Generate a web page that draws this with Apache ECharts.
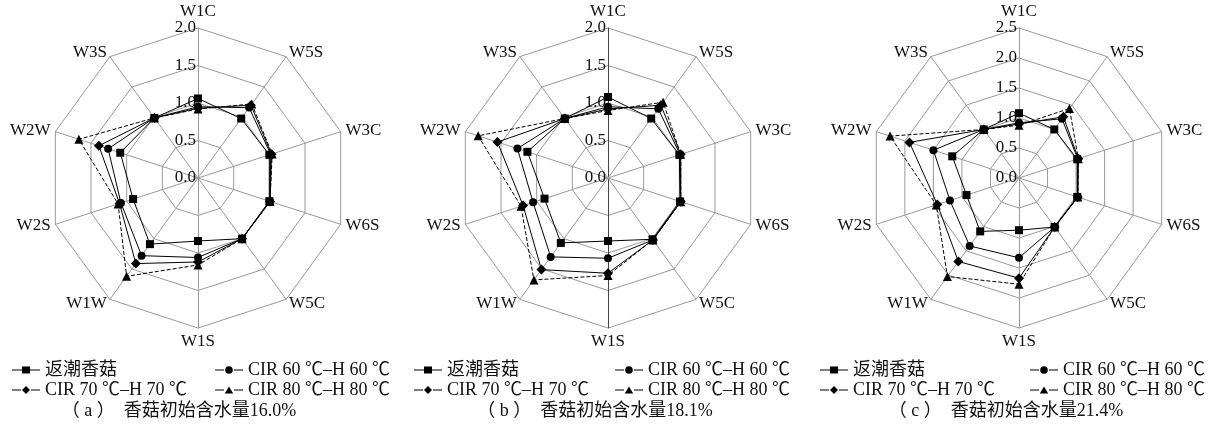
<!DOCTYPE html>
<html>
<head>
<meta charset="utf-8">
<script src="https://cdn.jsdelivr.net/npm/echarts@6/dist/echarts.min.js"></script>
<style>
  html, body { margin: 0; padding: 0; background: #fff; }
  #chart { width: 1217px; height: 430px; }
</style>
</head>
<body>
<div id="chart"></div>
<script>
// Indicator names, listed clockwise from the top
const indicators = ['W1C', 'W5S', 'W3C', 'W6S', 'W5C', 'W1S', 'W1W', 'W2S', 'W2W', 'W3S'];
const seriesNames = ['返潮香菇', 'CIR 60 ℃–H 60 ℃', 'CIR 70 ℃–H 70 ℃', 'CIR 80 ℃–H 80 ℃'];
const captions = ['（ a ）  香菇初始含水量16.0%', '（ b ）  香菇初始含水量18.1%', '（ c ）  香菇初始含水量21.4%'];
const axisMax = [2.0, 2.0, 2.5];
const axisStep = 0.5;

// (a) initial moisture 16.0%
const a_rewet = [1.06, 0.98, 1.00, 1.00, 1.00, 0.84, 1.09, 0.91, 1.09, 0.99];
const a_cir60 = [0.95, 1.16, 1.02, 1.01, 1.00, 1.06, 1.28, 1.08, 1.26, 0.99];
const a_cir70 = [0.93, 1.20, 1.03, 1.01, 1.00, 1.12, 1.41, 1.10, 1.39, 0.99];
const a_cir80 = [0.92, 1.22, 1.04, 1.01, 1.00, 1.16, 1.62, 1.12, 1.67, 0.99];

// (b) initial moisture 18.1%
const b_rewet = [1.08, 0.98, 1.00, 1.01, 1.01, 0.84, 1.07, 0.89, 1.13, 0.98];
const b_cir60 = [0.95, 1.14, 1.01, 1.02, 1.02, 1.07, 1.30, 1.05, 1.27, 0.98];
const b_cir70 = [0.92, 1.20, 1.02, 1.02, 1.02, 1.27, 1.51, 1.19, 1.55, 0.98];
const b_cir80 = [0.90, 1.25, 1.02, 1.02, 1.02, 1.30, 1.68, 1.22, 1.82, 0.98];

// (c) initial moisture 21.4%
const c_rewet = [1.08, 1.00, 1.02, 1.02, 1.01, 0.87, 1.10, 0.92, 1.17, 1.00];
const c_cir60 = [0.92, 1.22, 1.03, 1.03, 1.01, 1.33, 1.40, 1.21, 1.50, 1.00];
const c_cir70 = [0.90, 1.26, 1.04, 1.03, 1.01, 1.67, 1.72, 1.43, 1.92, 1.00];
const c_cir80 = [0.88, 1.43, 1.04, 1.03, 1.01, 1.77, 2.03, 1.45, 2.26, 1.00];

const panels = [
  [a_rewet, a_cir60, a_cir70, a_cir80],
  [b_rewet, b_cir60, b_cir70, b_cir80],
  [c_rewet, c_cir60, c_cir70, c_cir80]
];

// ECharts lays radar indicators out counter-clockwise; reorder to read clockwise
const toCCW = arr => [arr[0]].concat(arr.slice(1).reverse());

const FONT = "'Liberation Serif', 'Noto Sans CJK SC', serif";
const TEXT = '#111';
const GRID = '#999';
const centers = [[198, 178], [608, 178], [1019, 178]];
const symbols = ['rect', 'circle', 'diamond', 'triangle'];
const symbolSizes = [8, 8, 10, 9];
const lineTypes = ['solid', 'solid', 'solid', [4, 2]];

// legend icons: a short line with the marker in the middle
const bar = 'M0,3.4H9V4.6H0Z M19,3.4H28V4.6H19Z ';
const legendIcons = [
  'path://M0,3.4H10V0.5H18V3.4H28V4.6H18V7.5H10V4.6H0Z',
  'path://' + bar + 'M10.2,4A3.8,3.8,0,1,1,17.8,4A3.8,3.8,0,1,1,10.2,4Z',
  'path://' + bar + 'M14,0L18,4L14,8L10,4Z',
  'path://' + bar + 'M14,0.4L18.2,7.6L9.8,7.6Z'
];

// legend placement per panel
const legendLeft = [12, 414, 820];
const legendRight = [827, 427, 12];
const captionX = [179, 595, 1006];

const radar = [];
const series = [];
const legend = [];
const title = [];

panels.forEach((vals, p) => {
  const ind = toCCW(indicators).map((name, i) => {
    const o = { name: name, min: 0, max: axisMax[p] };
    if (i === 0) {
      o.axisLabel = {
        show: true, color: TEXT, fontSize: 17, fontFamily: FONT, margin: 2,
        formatter: v => Number(v).toFixed(1)
      };
    }
    // the vertical axis of panel (b) is drawn darker
    if (p === 1 && (name === 'W1C' || name === 'W1S')) {
      o.axisLine = { lineStyle: { color: '#444', width: 1 } };
    }
    return o;
  });
  radar.push({
    center: centers[p],
    radius: 150,
    startAngle: 90,
    shape: 'polygon',
    splitNumber: Math.round(axisMax[p] / axisStep),
    indicator: ind,
    axisName: { color: TEXT, fontSize: 17, fontFamily: FONT },
    nameGap: 5,
    axisLine: { lineStyle: { color: GRID, width: 1 } },
    splitLine: { lineStyle: { color: GRID, width: 1 } },
    splitArea: { show: false },
    axisLabel: { show: false },
    axisTick: { show: false }
  });
  series.push({
    type: 'radar',
    radarIndex: p,
    z: 3,
    data: vals.map((v, k) => ({
      name: seriesNames[k],
      value: toCCW(v),
      symbol: symbols[k],
      symbolSize: symbolSizes[k],
      itemStyle: { color: '#000' },
      lineStyle: { color: '#000', width: 1, type: lineTypes[k] }
    }))
  });
  const rows = [361, 381];
  const common = {
    itemWidth: 28, itemHeight: 8, padding: 0, itemGap: 0,
    selectedMode: false,
    textStyle: { color: TEXT, fontSize: 18, fontFamily: FONT }
  };
  legend.push(Object.assign({ data: [{ name: seriesNames[0], icon: legendIcons[0] }], left: legendLeft[p], top: rows[0] }, common));
  legend.push(Object.assign({ data: [{ name: seriesNames[2], icon: legendIcons[2] }], left: legendLeft[p], top: rows[1] }, common));
  legend.push(Object.assign({ data: [{ name: seriesNames[1], icon: legendIcons[1] }], right: legendRight[p], top: rows[0] }, common));
  legend.push(Object.assign({ data: [{ name: seriesNames[3], icon: legendIcons[3] }], right: legendRight[p], top: rows[1] }, common));
  title.push({
    text: captions[p],
    left: captionX[p],
    top: 402,
    textAlign: 'center',
    padding: 0,
    textStyle: { color: TEXT, fontSize: 18, fontWeight: 'normal', fontFamily: FONT }
  });
});

const chart = echarts.init(document.getElementById('chart'), null, { renderer: 'canvas' });
chart.setOption({
  backgroundColor: '#fff',
  animation: false,
  title: title,
  legend: legend,
  radar: radar,
  series: series
});
</script>
</body>
</html>
